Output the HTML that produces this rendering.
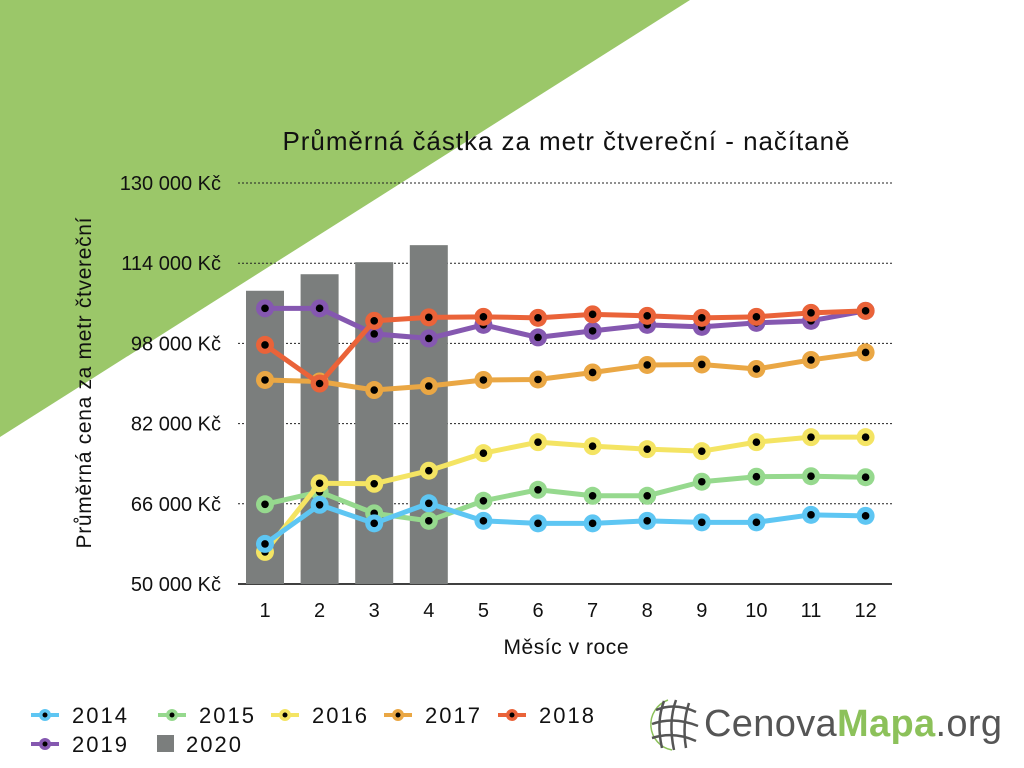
<!DOCTYPE html>
<html><head><meta charset="utf-8"><style>
body{margin:0;width:1024px;height:768px;overflow:hidden;background:#fff;font-family:"Liberation Sans",sans-serif;}
</style></head><body>
<svg width="1024" height="768" style="position:absolute;left:0;top:0">
<polygon points="0,0 690,0 0,437" fill="#9bc769"/>
<text x="566" y="150" text-anchor="middle" font-size="26" textLength="567" fill="#111">Průměrná částka za metr čtvereční - načítaně</text>
<text transform="translate(91,383) rotate(-90)" text-anchor="middle" font-size="21" textLength="331" fill="#111">Průměrná cena za metr čtvereční</text>
<text x="566" y="654" text-anchor="middle" font-size="21" textLength="125" fill="#111">Měsíc v roce</text>
<g id="grid"></g><g id="bars"></g><g id="lines"></g><g id="legend"></g>
<g>
<path d="M668 700 A26 26 0 0 0 672 750" stroke="#8cc15a" stroke-width="1.5" fill="none"/>
<g stroke="#555" stroke-width="2.5" fill="none"><path d="M656 710 Q675 702 696 712"/><path d="M652 724 Q674 716 698 726"/><path d="M652 738 Q674 731 696 741"/><path d="M664 701 Q656 722 662 748"/><path d="M676 700 Q668 722 674 750"/><path d="M689 703 Q682 724 686 748"/></g>
<text x="704" y="736" font-size="38" textLength="298" fill="#555">Cenova<tspan fill="#8cc15a" font-weight="bold">Mapa</tspan>.org</text>
</g>
</svg>
<script>
const months=[1,2,3,4,5,6,7,8,9,10,11,12];
const yTicks=[50000,66000,82000,98000,114000,130000];
const tickLabels=["50 000 Kč","66 000 Kč","82 000 Kč","98 000 Kč","114 000 Kč","130 000 Kč"];
const bars2020=[108500,111800,114200,117600];
const s2014=[58000,65800,62100,66100,62600,62100,62100,62600,62300,62300,63800,63600];
const s2015=[65900,68400,64100,62600,66600,68800,67600,67600,70400,71400,71500,71300];
const s2016=[56400,70100,70000,72600,76100,78300,77500,76900,76500,78300,79300,79300];
const s2017=[90700,90400,88700,89500,90700,90800,92200,93700,93800,92900,94700,96200];
const s2018=[97700,90000,102500,103200,103300,103100,103800,103500,103100,103300,104100,104500];
const s2019=[105000,105000,99900,99000,101700,99200,100500,101700,101300,102100,102500,104500];
const NS="http://www.w3.org/2000/svg";
const X=m=>265+(m-1)*54.6;
const Y=v=>584-(v-50000)*(401/80000);
function mk(t,a,p){const e=document.createElementNS(NS,t);for(const k in a)e.setAttribute(k,a[k]);p.appendChild(e);return e;}
const grid=document.getElementById('grid');
yTicks.forEach((v,i)=>{
 if(i>0){const l=mk('line',{x1:238,x2:892,y1:Y(v),y2:Y(v),stroke:'#222','stroke-dasharray':'2,2','stroke-width':1},grid);
 
 }
 const t=mk('text',{x:221,y:Y(v)+7,'text-anchor':'end','font-size':20,fill:'#111'},grid);t.textContent=tickLabels[i];
 
 
});
const ax=mk('line',{x1:238,x2:892,y1:584,y2:584,stroke:'#000','stroke-width':1.5},grid);


months.forEach(m=>{const t=mk('text',{x:X(m),y:617,'text-anchor':'middle','font-size':20,fill:'#111'},grid);t.textContent=m;
 
 });
const bg=document.getElementById('bars');
bars2020.forEach((v,i)=>{const r=mk('rect',{x:X(months[i])-19,y:Y(v),width:38,height:584-Y(v),fill:'#7b7e7d'},bg);
 
 });
const series=[[s2015,'#96d98e','2015'],[s2016,'#f4e463','2016'],[s2014,'#5ec6f3','2014'],[s2017,'#eaa744','2017'],[s2019,'#8558b0','2019'],[s2018,'#ea6339','2018']];
const lg=document.getElementById('lines');
series.forEach(([d,c,n])=>{
 const g=mk('g',{},lg);
 
 
 mk('polyline',{points:d.map((v,i)=>X(months[i])+','+Y(v)).join(' '),fill:'none',stroke:c,'stroke-width':5,'stroke-linejoin':'round'},g);
 d.forEach((v,i)=>{mk('circle',{cx:X(months[i]),cy:Y(v),r:9,fill:c},g);mk('circle',{cx:X(months[i]),cy:Y(v),r:3.8,fill:'#000'},g);});
});
const leg=document.getElementById('legend');
const legItems=[['2014','#5ec6f3',45,715],['2015','#96d98e',172,715],['2016','#f4e463',285,715],['2017','#eaa744',398,715],['2018','#ea6339',512,715],['2019','#8558b0',45,744]];
legItems.forEach(([n,c,x,y])=>{const g=mk('g',{},leg);
 
 
 mk('line',{x1:x-14,x2:x+14,y1:y,y2:y,stroke:c,'stroke-width':4},g);
 mk('circle',{cx:x,cy:y,r:6,fill:c},g);mk('circle',{cx:x,cy:y,r:2.5,fill:'#000'},g);
 const t=mk('text',{x:x+27,y:y+8,'font-size':22,textLength:55,fill:'#111'},g);t.textContent=n;});
const g20=mk('g',{},leg);


mk('rect',{x:157,y:735,width:17,height:17,fill:'#7b7e7d'},g20);
const t20=mk('text',{x:186,y:752,'font-size':22,textLength:55,fill:'#111'},g20);t20.textContent='2020';
</script>
</body></html>
